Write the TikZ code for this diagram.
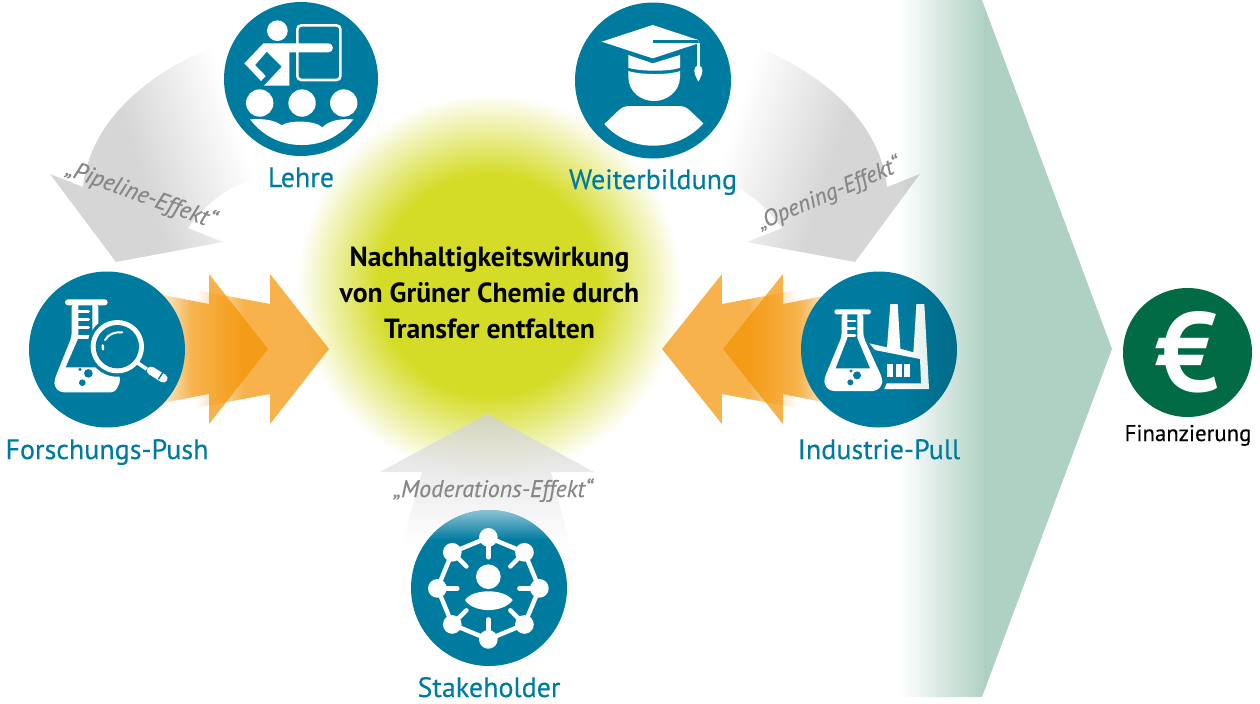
\documentclass[tikz,border=0pt]{standalone}
\usepackage{fontspec}
\setmainfont{PT Sans}
\newfontfamily\labelfont[FakeBold=0.3]{PT Sans}
\usetikzlibrary{fadings}

\definecolor{iconteal}{HTML}{007BA0}
\definecolor{icongreen}{HTML}{006B45}
\definecolor{arrowgray}{HTML}{D6D6D6}
\definecolor{labelgray}{HTML}{878787}
\definecolor{arroworange}{HTML}{F39200}
\definecolor{glowyellow}{HTML}{D5DC28}
\definecolor{chevrongreen}{HTML}{AFD1C3}

\pgfdeclareradialshading{glowshade}{\pgfpointorigin}{color(0bp)=(glowyellow); color(14.5bp)=(glowyellow); color(25bp)=(white); color(100bp)=(white)}
\pgfdeclarehorizontalshading{grayfade}{100bp}{color(0bp)=(arrowgray); color(42bp)=(arrowgray); color(64bp)=(white); color(100bp)=(white)}
\pgfdeclarehorizontalshading{orangeramp}{100bp}{color(0bp)=(transparent!100); color(25bp)=(transparent!100); color(43bp)=(transparent!0); color(100bp)=(transparent!0)}
\tikzfading[name=orangefade, shading=orangeramp]
\tikzfading[name=capfade, top color=transparent!45, bottom color=transparent!100]

\tikzset{
  iconcircle/.style={circle, fill=iconteal, inner sep=0pt, minimum size=78pt},
  iconlabel/.style={text=iconteal, font=\labelfont\fontsize{14}{16}\selectfont, inner sep=0pt, anchor=base},
  effectlabel/.style={text=labelgray, font=\labelfont\itshape\fontsize{12}{14}\selectfont, inner sep=0pt},
  iconzoom/.style={x=0.1667pt, y=-0.1667pt},
  orangearrow/.style={fill=arroworange, opacity=0.7, path fading=orangefade}
}

\begin{document}
\begin{tikzpicture}[x=0.5pt, y=-0.5pt]
  \useasboundingbox (0,0) rectangle (1260,703);

  % Glow
  \shade[shading=glowshade] (489,285) circle [radius=192];

  % Gray arrows
  \shade[shading=grayfade, shading angle=18]
    (83,187) .. controls (90,120) and (150,70) .. (225,42) -- (300,60) -- (290,180)
    -- (257,180) .. controls (228,184) and (205,205) .. (188,228)
    -- (223,242) -- (116,262) -- (50,174) -- cycle;
  \shade[shading=grayfade, shading angle=162]
    (887,187) .. controls (880,120) and (820,70) .. (745,42) -- (670,60) -- (680,180)
    -- (713,180) .. controls (742,184) and (765,205) .. (782,228)
    -- (747,242) -- (855,262) -- (920,174) -- cycle;
  \shade[top color=black!18, middle color=black!18, bottom color=white, opacity=0.8]
    (487,414) -- (594,472) -- (551,472) -- (570,545) -- (402,545) -- (422,472) -- (380,472) -- cycle;

  % Orange arrows
  \fill[orangearrow] (150,292.5) -- (209,304) -- (209,274) -- (268,349) -- (209,424) -- (209,394) -- (150,405.5) -- cycle;
  \fill[orangearrow] (195,290) -- (270,304) -- (270,274) -- (329,349) -- (270,424) -- (270,394) -- (195,408) -- cycle;
  \fill[orangearrow, fading angle=180] (840,292.5) -- (783,304) -- (783,274) -- (723,349) -- (783,424) -- (783,394) -- (840,405.5) -- cycle;
  \fill[orangearrow, fading angle=180] (797,290) -- (722,304) -- (722,274) -- (662,349) -- (722,424) -- (722,394) -- (797,408) -- cycle;

  % Circles
  \node[iconcircle, minimum size=77pt] (lehre) at (301,79) {};
  \node[iconcircle] (weiterbildung) at (653,80.5) {};
  \node[iconcircle] (forschung) at (107,349.5) {};
  \node[iconcircle] (industrie) at (879,349.5) {};
  \node[iconcircle] (stakeholder) at (489,588) {};
  \node[circle, fill=icongreen, inner sep=0pt, minimum size=64.5pt, text=white,
        font=\bfseries\fontsize{56}{56}\selectfont] (finanzierung) at (1187.5,352.5) {€\hspace{9pt}};

  % Icon Lehre
  \begin{scope}[iconzoom]
    \fill[white] (832,92) circle [radius=31];
    \draw[white, line width=1.3pt, rounded corners=2pt] (892,76) rectangle (1021,240);
    \fill[white] (790,130) -- (985,130) arc [start angle=-90, end angle=90, radius=13.5] -- (868,157) -- (868,257)
      -- (792,257) -- (845,200) -- (800,155) -- (765,195) -- (797,228) -- (783,243) -- (733,190) -- cycle;
    \foreach \x in {779,906,1031} {
      \fill[white] (\x,309) circle [radius=41];
    }
    \fill[white] (750,358) .. controls (790,355) and (825,360) .. (845,376) .. controls (865,360) and (945,360) .. (967,382)
      .. controls (985,362) and (1020,355) .. (1060,358) .. controls (1020,410) and (965,435) .. (905,435)
      .. controls (845,435) and (790,410) .. (750,358) -- cycle;
  \end{scope}

  % Icon Weiterbildung
  \begin{scope}[shift={(550,0)}, iconzoom]
    \fill[white] (155,125) -- (308,75) -- (445,120) -- (445,130) -- (308,175) -- cycle;
    \draw[iconteal, line width=1.7pt] (308,125) -- (445,125);
    \draw[white, line width=1.2pt] (445,130) -- (445,200);
    \fill[white] (445,195) .. controls (430,200) and (428,215) .. (445,245) .. controls (462,215) and (460,200) .. (445,195);
    \fill[white] (235,165) -- (308,190) -- (390,165) -- (390,203) .. controls (360,215) and (270,215) .. (235,203) -- cycle;
    \fill[white] (235,213) .. controls (270,225) and (360,225) .. (390,213) -- (390,230) .. controls (390,275) and (350,303) .. (312,303)
      .. controls (272,303) and (235,275) .. (235,230) -- cycle;
    \fill[white] (163,372) -- (205,332) .. controls (215,322) and (225,318) .. (240,318) -- (385,318) .. controls (400,318) and (410,322) .. (420,332)
      -- (460,370) .. controls (420,415) and (365,437) .. (310,437) .. controls (255,437) and (200,415) .. (163,372) -- cycle;
  \end{scope}

  % Icon Forschungs-Push
  \begin{scope}[shift={(45,290)}, iconzoom]
    \fill[white, rounded corners=1.5pt] (60,28) rectangle (188,46);
    \fill[white, rounded corners=2pt] (80,40) -- (80,140) -- (28,270) -- (28,290) -- (45,307) -- (210,307) -- (228,270) -- (160,110) -- (160,40) -- cycle;
    \fill[iconteal] (100,46) -- (100,145) -- (62,232) -- (200,232) -- (142,145) -- (142,46) -- cycle;
    \foreach \y in {65,89,112,141} {
      \draw[white, line width=1.8pt, line cap=round] (100,\y) -- (130,\y);
    }
    \fill[iconteal] (130,250) circle [radius=13];
    \fill[iconteal] (112,278) circle [radius=10];
    \fill[iconteal] (105,238) circle [radius=5];
    \fill[iconteal] (217,170) circle [radius=90];
    \fill[white] (217,170) circle [radius=80];
    \fill[iconteal] (217,170) circle [radius=65];
    \draw[white, line width=1pt, line cap=round] (180,150) .. controls (190,132) and (210,125) .. (232,127);
    \draw[white, line width=1.2pt, line cap=round] (173,166) -- (174,178);
    \draw[white, line width=1.8pt] (272,215) -- (305,237);
    \draw[white, line width=4.2pt, line cap=round] (318,242) -- (355,265);
    \draw[iconteal, line width=0.7pt] (340,268) -- (356,243);
  \end{scope}

  % Icon Industrie-Pull
  \begin{scope}[shift={(815,290)}, iconzoom]
    \fill[white, rounded corners=1.3pt] (58,58) rectangle (168,73);
    \fill[white, rounded corners=2pt] (80,68) -- (80,140) -- (28,265) -- (28,285) -- (45,303) -- (185,303) -- (202,285) -- (202,265) -- (145,140) -- (145,68) -- cycle;
    \fill[iconteal] (97,73) -- (97,145) -- (62,235) -- (165,235) -- (127,145) -- (127,73) -- cycle;
    \foreach \y in {93,115,137} {
      \draw[white, line width=1.4pt, line cap=round] (97,\y) -- (120,\y);
    }
    \fill[iconteal] (126,256) circle [radius=12];
    \fill[iconteal] (106,277) circle [radius=9];
    \fill[iconteal] (108,243) circle [radius=5];
    \fill[white] (163,160) -- (216,172) -- (226,42) -- (248,42) -- (256,176) -- (295,187) -- (304,42) -- (328,42) -- (342,297)
      -- (208,297) -- (215,280) -- (318,280) -- (315,207) -- (180,180) -- cycle;
    \fill[white] (215,222) rectangle (235,262);
    \fill[white] (242,222) rectangle (261,262);
    \fill[white] (268,222) rectangle (285,262);
  \end{scope}

  % Icon Stakeholder
  \begin{scope}[shift={(370,400)}, iconzoom]
    \draw[white, line width=2.2pt] (355,565) ++(0:153) -- ++(112.5:117) -- ++(157.5:117) -- ++(202.5:117) -- ++(247.5:117) -- ++(292.5:117) -- ++(337.5:117) -- ++(22.5:117) -- cycle;
    \foreach \a in {0,45,...,315} {
      \fill[white] (355,565) ++(\a:153) circle [radius=28];
      \draw[white, line width=2.2pt, line cap=round] (355,565) ++(\a:153) -- ++(\a:-60);
    }
    \fill[white] (355,530) circle [radius=37];
    \fill[white] (285,600) .. controls (310,565) and (400,565) .. (428,600) .. controls (400,640) and (310,640) .. (285,600) -- cycle;
  \end{scope}

  % Fade over Stakeholder
  \begin{scope}
    \clip (489,588) circle [radius=78];
    \fill[white, path fading=capfade] (400,510) rectangle (580,540);
  \end{scope}

  % Chevron
  \begin{scope}[blend mode=multiply]
    \clip (900,0) -- (982,0) -- (1112,349) -- (982,697) -- (900,697) -- cycle;
    \shade[left color=white, right color=chevrongreen] (900,0) rectangle (985,703);
    \fill[chevrongreen] (984.5,0) rectangle (1120,703);
  \end{scope}

  % Labels
  \node[iconlabel] (lehrelabel) at (301,187) {Lehre};
  \node[iconlabel] (weiterbildunglabel) at (653,189) {Weiterbildung};
  \node[iconlabel] (forschunglabel) at (107,459) {Forschungs-Push};
  \node[iconlabel] (industrielabel) at (879,459) {Industrie-Pull};
  \node[iconlabel] (stakeholderlabel) at (489,697) {Stakeholder};
  \node[inner sep=0pt, anchor=base, font=\labelfont\fontsize{11.4}{12}\selectfont] (finanzierunglabel) at (1188,441) {Finanzierung};
  \node[inner sep=0pt, align=center, font=\bfseries\fontsize{13.85}{18}\selectfont] (wirkung) at (489.5,293)
    {Nachhaltigkeitswirkung\\von Grüner Chemie durch\\Transfer entfalten};
  \node[effectlabel, rotate=-20] (pipeline) at (141,195) {„Pipeline-Ef{}fekt“};
  \node[effectlabel, rotate=23, font=\labelfont\itshape\fontsize{11.5}{14}\selectfont] (opening) at (829,194) {„Opening-Ef{}fekt“};
  \node[effectlabel, anchor=base] (moderation) at (493,497) {„Moderations-Ef{}fekt“};
\end{tikzpicture}
\end{document}
